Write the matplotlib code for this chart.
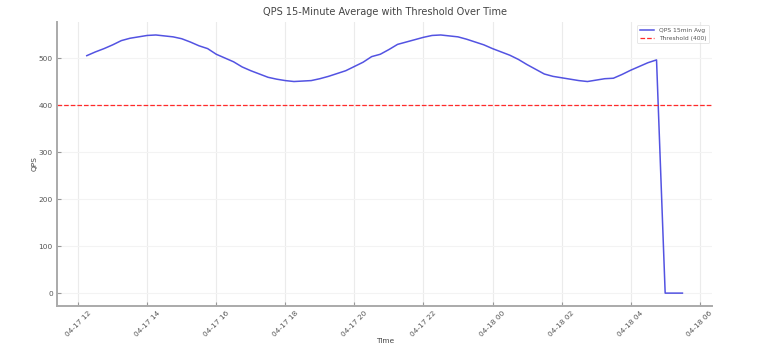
import numpy as np
import pandas as pd
import matplotlib
matplotlib.use("Agg")
import matplotlib.pyplot as plt
import matplotlib.dates as mdates

# 15-minute averages, 04-17 12:15 to 04-18 05:30
start = "2024-04-17 12:15"
qps_avg = [505, 513, 520, 528, 537, 542, 545, 548, 549, 547, 545, 541,
           534, 526, 520, 508, 500, 492, 481, 473, 466, 459, 455, 452,
           450, 451, 452, 456, 461, 467, 473, 482, 491, 503, 508, 518,
           529, 534, 539, 544, 548, 549, 547, 545, 540, 534, 528, 520,
           513, 506, 497, 486, 476, 466, 461, 458, 455, 452, 450, 453,
           456, 457, 465, 474, 482, 490, 496, 0, 0, 0]
threshold = 400
times = pd.date_range(start, periods=len(qps_avg), freq="15min")

fig = plt.figure(figsize=(7.65, 3.56), dpi=100)
ax = fig.add_axes([0.0745, 0.1404, 0.8565, 0.7976])

ax.plot(times, qps_avg, color="#3535dd", lw=1.1, alpha=0.85, label="QPS 15min Avg")
ax.axhline(threshold, color="#ff2a2a", ls="--", lw=0.9, label="Threshold (400)")

ax.xaxis.set_major_locator(mdates.HourLocator(interval=2))
ax.xaxis.set_major_formatter(mdates.DateFormatter("%m-%d %H"))
plt.setp(ax.get_xticklabels(), rotation=45)
ax.set_yticks([0, 100, 200, 300, 400, 500])

ax.grid(axis="x", color="#ebebeb", lw=0.8)
ax.grid(axis="y", color="#f3f3f3", lw=0.8)
for s in ["top", "right"]:
    ax.spines[s].set_visible(False)
for s in ["left", "bottom"]:
    ax.spines[s].set_color("#aaaaaa")
    ax.spines[s].set_linewidth(1.4)
ax.tick_params(direction="in", length=3, color="#999999", labelsize=5.3, labelcolor="#555555", pad=3)

ax.set_title("QPS 15-Minute Average with Threshold Over Time", fontsize=7, color="#444444", pad=5)
ax.set_xlabel("Time", fontsize=5.3, color="#444444", labelpad=0)
ax.set_ylabel("QPS", fontsize=5.3, color="#444444", labelpad=1)

leg = ax.legend(loc="upper right", fontsize=4.3, frameon=True, handlelength=2.5)
leg.get_frame().set_edgecolor("#dddddd")
leg.get_frame().set_linewidth(0.6)
for t in leg.get_texts():
    t.set_color("#555555")

fig.savefig("out.png", dpi=100)
